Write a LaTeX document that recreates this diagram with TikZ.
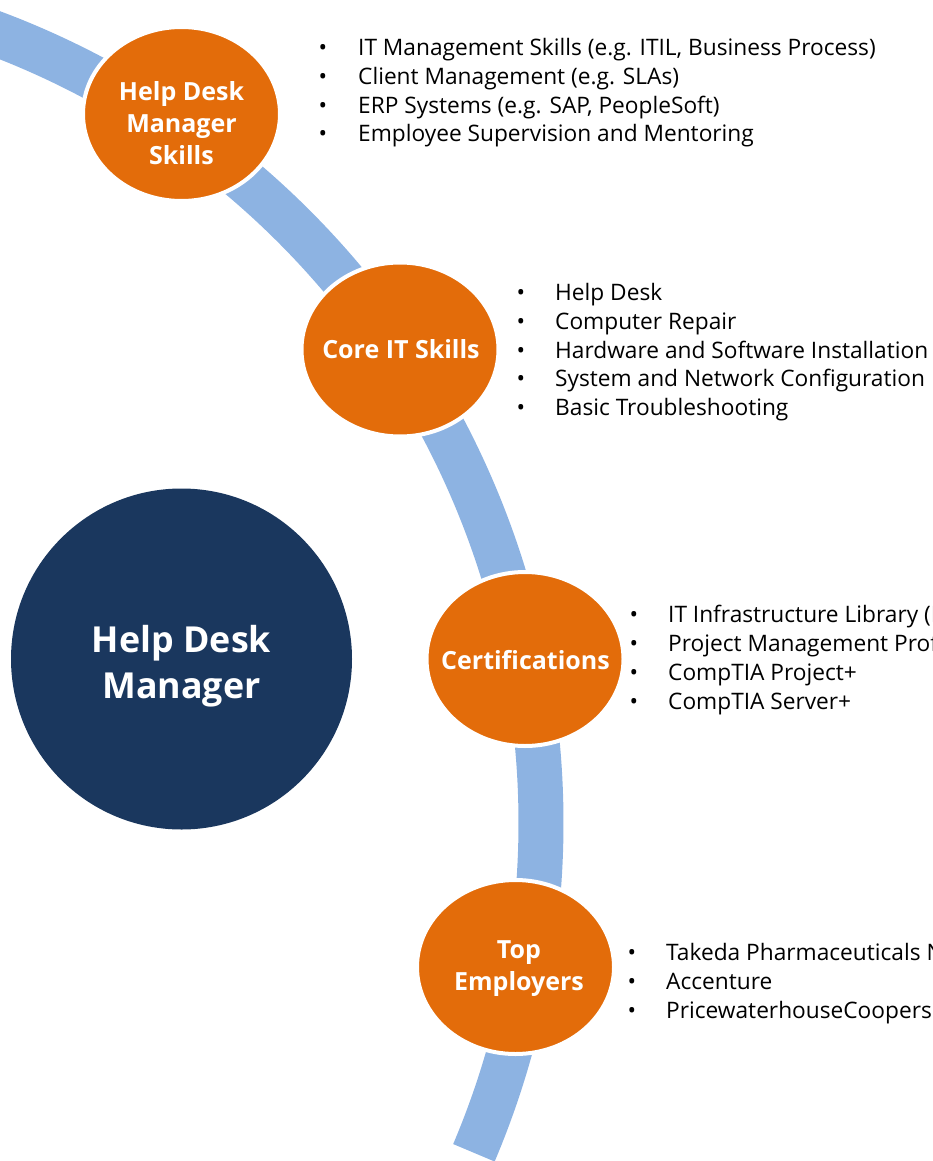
\documentclass[tikz,border=0pt]{standalone}
\usepackage{fontspec}
\setmainfont{Open Sans}
\usetikzlibrary{shapes.geometric}
\definecolor{bandblue}{HTML}{8DB3E2}
\definecolor{orng}{HTML}{E36C0A}
\definecolor{navy}{HTML}{1A375E}
\begin{document}
\begin{tikzpicture}[x=1pt,y=1pt,
  skill/.style={ellipse, fill=orng, draw=white, line width=4pt, minimum width=197pt, minimum height=174pt, inner sep=0pt},
  skilltext/.style={text=white, font=\fontsize{25}{32}\selectfont\bfseries, align=center, inner sep=0pt},
  hub/.style={circle, fill=navy, minimum size=341pt, inner sep=0pt},
  hubtext/.style={text=white, font=\fontsize{35.8}{46}\selectfont\bfseries, align=center, inner sep=0pt},
  item/.style={anchor=base west, inner sep=0pt, font=\fontsize{22.7}{27}\selectfont, text=black},
  dot/.style={anchor=base, inner sep=0pt, font=\fontsize{22.7}{27}\selectfont, text=black},
  band/.style={draw=bandblue, line width=45pt}
]
\useasboundingbox (0,0) rectangle (933,-1161);
\clip (0,0) rectangle (933,-1161);
\coordinate (arcc) at (-303,-823);
\draw[band] (arcc) ++(75:844) arc[start angle=75, end angle=-23, radius=844];

\node[hub] (hub) at (181.5,-659) {};
\node[hubtext] (hublbl) at (181.5,-666) {Help Desk\\Manager};

\node[skill] (mgr) at (181.5,-114) {};
\node[skilltext] (mgrlbl) at (181.5,-123.5) {Help Desk\\Manager\\Skills};
\node[skill] (core) at (400,-349.5) {};
\node[skilltext] (corelbl) at (401,-349) {Core IT Skills};
\node[skill] (cert) at (525,-659) {};
\node[skilltext] (certlbl) at (525.5,-660) {Certifications};
\node[skill] (emp) at (515.5,-967) {};
\node[skilltext] (emplbl) at (519,-969) {Top\\Employers};

\foreach \t [count=\i] in {{IT Management Skills (e.g. ITIL, Business Process)},{Client Management (e.g. SLAs)},{ERP Systems (e.g. SAP, PeopleSoft)},{Employee Supervision and Mentoring}}{
  \node[dot] (ab\i) at (323,{-(47.5+28.8*(\i-1))-8}) {•};
  \node[item] (at\i) at (358,{-(47.5+28.8*(\i-1))-8}) {\t};
}
\foreach \t [count=\i] in {{Help Desk},{Computer Repair},{Hardware and Software Installation},{System and Network Configuration},{Basic Troubleshooting}}{
  \node[dot] (bb\i) at (521,{-(292.5+28.8*(\i-1))-8}) {•};
  \node[item] (bt\i) at (555,{-(292.5+28.8*(\i-1))-8}) {\t};
}
\foreach \t [count=\i] in {{IT Infrastructure Library (ITIL)},{Project Management Professional (PMP)},{CompTIA Project+},{CompTIA Server+}}{
  \node[dot] (cb\i) at (634,{-(614.5+29*(\i-1))-8}) {•};
  \node[item] (ct\i) at (668,{-(614.5+29*(\i-1))-8}) {\t};
}
\foreach \t [count=\i] in {{Takeda Pharmaceuticals North America},{Accenture},{PricewaterhouseCoopers}}{
  \node[dot] (db\i) at (632,{-(952.5+29*(\i-1))-8}) {•};
  \node[item] (dt\i) at (666,{-(952.5+29*(\i-1))-8}) {\t};
}
\end{tikzpicture}
\end{document}
